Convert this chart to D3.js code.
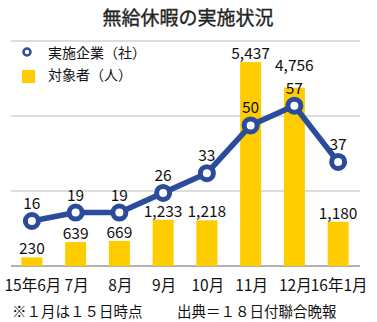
<!DOCTYPE html>
<html><head><meta charset="utf-8">
<script src="https://cdn.jsdelivr.net/npm/d3@7"></script>
<style>body{margin:0;background:#fff;} text{font-family:"Noto Sans CJK JP","Noto Sans",sans-serif;}</style>
</head><body>
<svg id="c" width="377" height="322"></svg>
<script>
const categories = ["15年6月","7月","8月","9月","10月","11月","12月","16年1月"];
const companies = [16,19,19,26,33,50,57,37];
const persons = [230,639,669,1233,1218,5437,4756,1180];
const barTicks = [0,2000,4000,6000];
const title = "無給休暇の実施状況";
const legendLabels = ["実施企業（社）","対象者（人）"];
const note1 = "※１月は１５日時点";
const note2 = "出典＝１８日付聯合晩報";

const svg = d3.select("#c");
const blue = "#2B4C9B", yellow = "#FFCC00";
const x = d3.scaleBand().domain(categories).range([10,360]).paddingInner(0.52).paddingOuter(0.26);
const yBar = d3.scaleLinear().domain([0,6000]).range([266,41]);
const yLine = d3.scaleLinear().domain([0,80]).range([266,41]);
const cx = (i)=>x(categories[i])+x.bandwidth()/2;

svg.append("text").attr("x",188).attr("y",25).attr("text-anchor","middle")
  .attr("font-size",19).attr("fill","#222").attr("stroke","#222").attr("stroke-width",0.35).text(title);

// gridlines
svg.append("g").selectAll("line").data(barTicks).join("line")
  .attr("x1",11).attr("x2",360).attr("y1",d=>yBar(d)).attr("y2",d=>yBar(d))
  .attr("stroke",d=>d===0?"#666":"#bbb").attr("stroke-width",1);

// bars
svg.append("g").selectAll("rect").data(persons).join("rect")
  .attr("x",(d,i)=>x(categories[i])).attr("width",x.bandwidth())
  .attr("y",d=>yBar(d)).attr("height",d=>yBar(0)-yBar(d)).attr("fill",yellow);

// line
svg.append("path").datum(companies)
  .attr("d",d3.line().x((d,i)=>cx(i)).y(d=>yLine(d)))
  .attr("fill","none").attr("stroke",blue).attr("stroke-width",5.5);
svg.append("g").selectAll("circle").data(companies).join("circle")
  .attr("cx",(d,i)=>cx(i)).attr("cy",d=>yLine(d)).attr("r",6.5)
  .attr("fill","#fff").attr("stroke",blue).attr("stroke-width",5);

// line labels
const lineLabelY = companies.map(d=>yLine(d)-12);
svg.append("g").selectAll("text").data(companies).join("text")
  .attr("x",(d,i)=>cx(i)).attr("y",(d,i)=>lineLabelY[i])
  .attr("text-anchor","middle").attr("font-size",15.5).attr("fill","#111").text(d=>d);

// bar labels (lifted above line label when they would collide)
svg.append("g").selectAll("text").data(persons).join("text")
  .attr("x",(d,i)=>cx(i)).attr("y",(d,i)=>{
      let y = yBar(d)-3;
      if (Math.abs(y - lineLabelY[i]) < 15 ) y = lineLabelY[i]-23;
      return y;})
  .attr("text-anchor","middle").attr("font-size",15.5).attr("fill","#111")
  .text(d=>d3.format(",")(d));

// x labels
svg.append("g").selectAll("text").data(categories).join("text")
  .attr("x",(d,i)=>cx(i)+1).attr("y",291).attr("text-anchor","middle")
  .attr("font-size",15.5).attr("fill","#111").text(d=>d);

// legend
svg.append("circle").attr("cx",27).attr("cy",52).attr("r",3.5)
  .attr("fill","#fff").attr("stroke",blue).attr("stroke-width",2.5);
svg.append("text").attr("x",48).attr("y",58).attr("font-size",14).attr("fill","#111").text(legendLabels[0]);
svg.append("rect").attr("x",22).attr("y",70).attr("width",13).attr("height",13).attr("fill",yellow);
svg.append("text").attr("x",48).attr("y",80).attr("font-size",14).attr("fill","#111").text(legendLabels[1]);

// notes
svg.append("text").attr("x",12).attr("y",317).attr("font-size",14.5).attr("fill","#111").text(note1);
svg.append("text").attr("x",177).attr("y",317).attr("font-size",14.5).attr("fill","#111").text(note2);
</script>
</body></html>
